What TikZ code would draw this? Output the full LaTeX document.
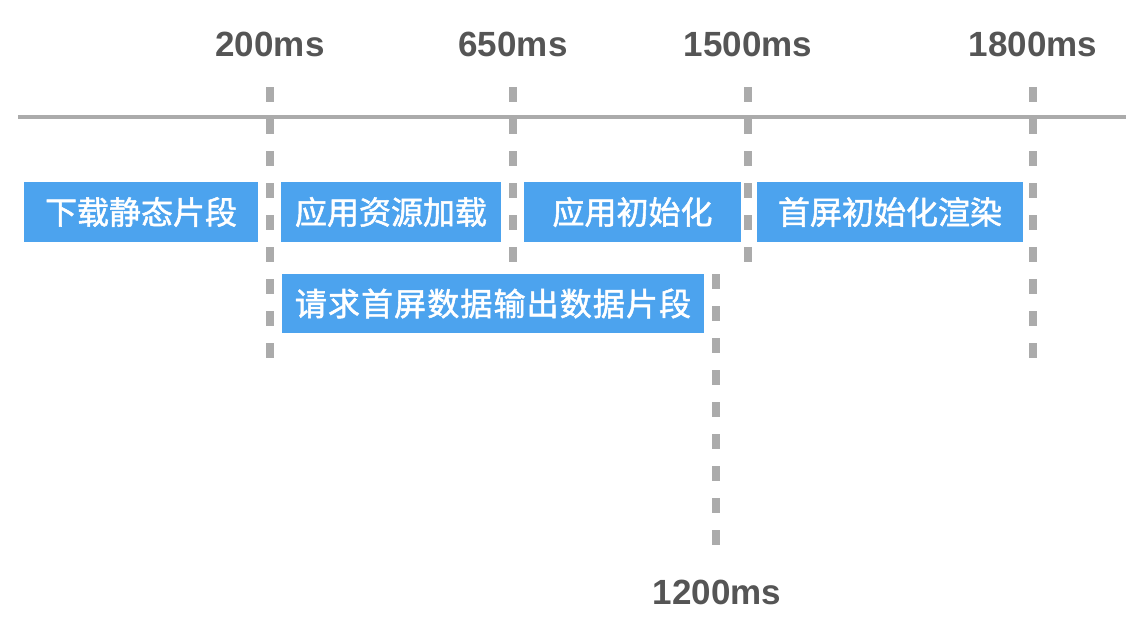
\documentclass[tikz,border=0pt]{standalone}
\usepackage{fontspec}
\setmainfont{Liberation Sans}
\newfontfamily\cjk{Noto Sans CJK SC}[FakeBold=1.6]
\definecolor{boxblue}{HTML}{4CA3EE}
\definecolor{linegray}{HTML}{ABABAB}
\definecolor{labelgray}{HTML}{555555}
\begin{document}
\begin{tikzpicture}[x=1pt,y=-1pt,
  stage/.style={fill=boxblue, text=white, inner sep=0pt, minimum height=60pt,
    font=\cjk\fontsize{32}{36}\selectfont, anchor=center},
  tickline/.style={draw=linegray, line width=8pt, dash pattern=on 15pt off 17pt},
  axisline/.style={draw=linegray, line width=4.5pt},
  timelab/.style={text=labelgray, font=\bfseries\fontsize{35}{40}\selectfont, inner sep=0pt}]
\useasboundingbox[fill=white] (0,0) rectangle (1126,640);

% axis
\coordinate (axL) at (18,117);
\coordinate (axR) at (1126,117);
\draw[axisline] (axL) -- (axR);

% tick lines
\coordinate (t200a) at (270,87);   \coordinate (t200b) at (270,358);
\coordinate (t650a) at (513,87);   \coordinate (t650b) at (513,262);
\coordinate (t1500a) at (748,87);  \coordinate (t1500b) at (748,262);
\coordinate (t1800a) at (1033,87); \coordinate (t1800b) at (1033,358);
\coordinate (t1200a) at (716,274); \coordinate (t1200b) at (716,545);
\draw[tickline] (t200a) -- (t200b);
\draw[tickline] (t650a) -- (t650b);
\draw[tickline] (t1500a) -- (t1500b);
\draw[tickline] (t1800a) -- (t1800b);
\draw[tickline] (t1200a) -- (t1200b);

% labels
\node[timelab] (l200) at (270,44) {200ms};
\node[timelab] (l650) at (513,44) {650ms};
\node[timelab] (l1500) at (748,44) {1500ms};
\node[timelab] (l1800) at (1033,44) {1800ms};
\node[timelab] (l1200) at (717,592) {1200ms};

% stages
\node[stage, minimum width=234pt] (b1) at (141,212) {下载静态片段};
\node[stage, minimum width=220pt] (b2) at (391,212) {应用资源加载};
\node[stage, minimum width=217pt] (b3) at (632.5,212) {应用初始化};
\node[stage, minimum width=266pt] (b4) at (890,212) {首屏初始化渲染};
\node[stage, minimum width=422pt, minimum height=59pt] (b5) at (493,303.5)
  {\addfontfeature{LetterSpace=3.5}请求首屏数据输出数据片段};
\end{tikzpicture}
\end{document}
